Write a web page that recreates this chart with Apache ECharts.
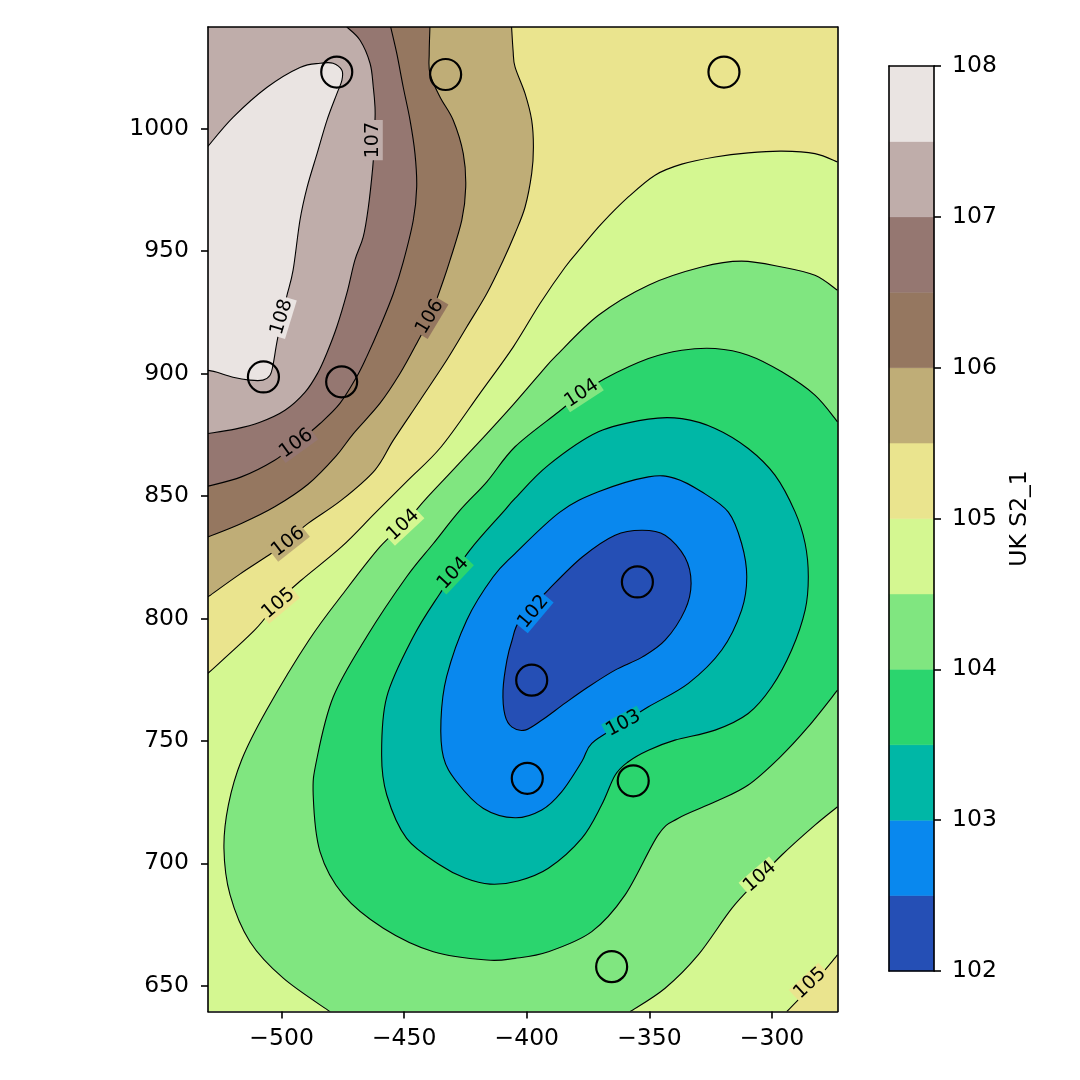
<!DOCTYPE html>
<html><head><meta charset="utf-8">
<script src="https://cdn.jsdelivr.net/npm/echarts@6/dist/echarts.min.js"></script>
<style>html,body{margin:0;padding:0;background:#fff}#c{width:1080px;height:1080px}</style>
</head><body><div id="c"></div>
<script>
// ---------- axes ----------
const xRange = [-530, -273.3];
const yRange = [639.5, 1041.5];
const xTicks = [-500, -450, -400, -350, -300];
const yTicks = [650, 700, 750, 800, 850, 900, 950, 1000];
const cbTicks = [102, 103, 104, 105, 106, 107, 108];

// ---------- contour levels / colours (terrain) ----------
const levels = [102, 102.5, 103, 103.5, 104, 104.5, 105, 105.5, 106, 106.5, 107, 107.5, 108];
const bandColors = ['#254fb5', '#0988ee', '#00b7a6', '#2bd56e', '#80e680', '#d4f791',
                    '#eae48e', '#bfad77', '#957760', '#957771', '#bfadaa', '#eae4e2'];

// ---------- sample locations (circles) ----------
const sampleX = [-477.5, -433.1, -319.6, -507.4, -475.5, -354.9, -398.0, -399.8, -356.6, -365.4];
const sampleY = [1023.1, 1022.1, 1023.1, 898.6, 896.6, 814.9, 774.8, 734.7, 733.7, 657.8];

// ---------- contour lines (data coordinates) ----------
const c1025 = [[-402.8,799.3],[-391.3,811.6],[-377.5,825.0],[-364.0,834.0],[-353.0,836.0],[-343.6,834.0],[-335.5,825.0],[-333.0,814.4],[-335.5,803.4],[-343.6,791.1],[-353.0,784.2],[-364.0,778.9],[-375.0,772.0],[-384.4,765.4],[-393.8,758.5],[-400.7,754.4],[-406.0,755.6],[-408.9,760.5],[-409.7,770.7],[-408.1,783.0],[-406.0,791.1]];
const c103 = [[-404.8,826.5],[-386.5,843.4],[-370.8,851.7],[-350.4,857.8],[-339.6,857.2],[-328.7,851.7],[-317.8,843.4],[-312.4,830.6],[-310.3,817.0],[-312.4,803.4],[-320.5,787.1],[-334.1,773.5],[-350.4,763.9],[-362.0,756.5],[-373.5,749.0],[-377.6,741.5],[-385.8,729.2],[-393.9,721.8],[-404.8,718.6],[-417.7,722.4],[-428.6,733.3],[-434.0,743.4],[-435.0,758.5],[-432.7,776.2],[-424.5,799.3],[-413.7,817.0]];
const c1035 = [[-404.8,849.0],[-391.2,862.6],[-370.8,876.2],[-350.4,881.4],[-336.8,881.6],[-323.2,877.6],[-309.7,869.4],[-298.8,858.5],[-290.6,843.5],[-286.5,830.6],[-285.2,817.0],[-286.5,803.4],[-292.0,787.1],[-300.1,772.1],[-309.7,761.2],[-323.2,754.4],[-339.6,750.3],[-350.4,746.2],[-358.6,741.5],[-364.0,736.0],[-369.5,723.8],[-377.6,710.2],[-391.2,698.0],[-403.6,692.8],[-415.0,691.5],[-425.2,694.0],[-435.4,699.3],[-449.0,710.2],[-457.1,727.9],[-459.2,744.2],[-457.1,768.0],[-446.3,792.5],[-435.4,810.2],[-423.2,827.9],[-409.7,843.4]];
const c104 = [[-273.3,880.3],[-282.5,891.2],[-296.0,900.7],[-309.7,907.5],[-323.2,910.2],[-336.8,909.5],[-350.4,906.1],[-368.1,898.0],[-377.6,891.9],[-387.1,884.3],[-404.8,870.1],[-416.3,855.8],[-427.2,844.2],[-438.1,830.6],[-449.0,817.0],[-465.3,792.5],[-478.9,768.0],[-485.7,742.2],[-487.1,727.9],[-484.3,704.7],[-474.8,687.1],[-458.5,673.5],[-438.1,663.9],[-416.3,660.5],[-404.8,661.2],[-391.2,663.9],[-373.5,672.1],[-359.9,687.1],[-346.4,711.6],[-338.2,718.4],[-323.2,725.1],[-309.7,732.0],[-296.7,743.4],[-285.2,755.8],[-273.3,770.7]];
const c1045a = [[-273.3,934.0],[-282.5,940.1],[-296.0,943.5],[-312.4,945.9],[-328.7,943.5],[-350.4,936.1],[-370.8,923.8],[-387.8,907.5],[-394.6,900.0],[-406.8,885.9],[-419.1,872.4],[-431.3,859.3],[-441.6,848.3],[-449.8,838.8],[-459.9,829.2],[-474.1,811.2],[-488.8,791.2],[-506.1,762.6],[-516.3,742.2],[-521.7,723.8],[-523.5,706.1],[-521.0,687.1],[-512.9,668.0],[-499.3,653.1],[-480.2,639.4]];
const c1045b = [[-357.9,639.4],[-343.6,649.0],[-330.1,662.6],[-316.4,681.6],[-305.7,693.2],[-296.0,703.4],[-282.5,715.6],[-273.3,723.1]];
const c105a = [[-273.3,986.4],[-282.5,989.8],[-296.0,990.8],[-309.7,990.1],[-323.2,988.4],[-336.8,985.5],[-347.7,981.0],[-358.6,972.1],[-369.5,961.2],[-377.6,951.7],[-384.4,943.4],[-394.6,928.6],[-405.5,910.9],[-419.1,891.9],[-434.9,870.1],[-448.4,856.5],[-462.0,842.9],[-475.6,829.2],[-492.0,815.6],[-501.5,806.8],[-511.0,795.2],[-530,777.6]];
const c105b = [[-294.0,639.4],[-283.7,650.3],[-273.3,662.6]];
const c1055 = [[-406.2,1041.5],[-405.6,1032.0],[-404.8,1025.2],[-400.7,1014.3],[-398.0,1003.4],[-397.3,992.5],[-398.0,981.7],[-400.7,968.0],[-404.8,957.2],[-409.6,946.3],[-416.3,932.7],[-424.5,919.0],[-432.7,905.4],[-443.5,889.1],[-454.4,872.8],[-462.0,860.5],[-475.6,848.3],[-489.2,838.8],[-497.4,831.8],[-504.0,826.7],[-517.0,818.1],[-530,808.8]];
const c106 = [[-439.5,1041.5],[-439.8,1030.6],[-439.5,1022.5],[-435.4,1012.9],[-430.0,1003.4],[-425.9,989.8],[-424.9,976.2],[-426.5,962.6],[-431.3,946.3],[-434.0,938.1],[-439.5,923.1],[-444.9,912.3],[-451.7,900.0],[-459.9,887.8],[-470.7,875.5],[-477.8,866.3],[-489.2,854.8],[-502.8,845.6],[-516.4,838.8],[-530,833.3]];
const c1065 = [[-455.5,1041.5],[-453.0,1030.6],[-450.4,1017.0],[-447.6,1003.4],[-445.6,989.8],[-444.9,976.2],[-446.3,962.6],[-450.4,945.5],[-454.4,932.7],[-459.9,919.0],[-465.3,906.8],[-469.4,898.6],[-476.2,887.8],[-484.3,879.6],[-494.0,871.4],[-502.8,864.6],[-516.4,857.8],[-530,854.0]];
const c107 = [[-473.4,1041.5],[-468.0,1036.1],[-463.9,1026.6],[-462.6,1017.0],[-461.9,1008.8],[-461.9,1003.4],[-462.3,992.5],[-462.8,984.4],[-464.6,968.0],[-466.7,955.8],[-470.1,946.3],[-473.4,932.7],[-477.5,919.0],[-481.6,908.2],[-485.1,900.5],[-490.4,892.4],[-498.6,885.0],[-508.8,880.1],[-519.0,877.3],[-530,875.5]];
const c1075 = [[-530,992.8],[-519.8,1004.6],[-505.9,1016.9],[-492.5,1025.0],[-484.3,1026.7],[-479.0,1026.7],[-475.4,1023.8],[-475.4,1019.7],[-477.4,1014.4],[-481.5,1003.4],[-485.5,989.9],[-489.6,976.0],[-492.5,962.6],[-495.3,942.2],[-497.8,931.9],[-499.8,923.0],[-501.9,912.8],[-503.5,903.4],[-504.7,899.3],[-507.6,897.3],[-512.9,897.3],[-519.8,898.5],[-526.3,900.5],[-530,901.3]];

// ---------- contour labels ----------
const labelText  = ['107', '108', '106', '106', '106', '105', '104', '104', '104', '102', '103', '104', '105'];
const labelLevel = [107, 107.5, 106.5, 106, 105.5, 105, 104.5, 104, 103.5, 102.5, 103, 104.5, 105];
const labelX = [-462.6, -499.9, -494.0, -439.5, -497.3, -501.3, -450.4, -377.6, -430.0, -397.3, -360.6, -304.9, -284.5];
const labelY = [995.3, 923.1, 871.4, 923.1, 831.3, 806.1, 838.1, 891.9, 818.4, 802.7, 757.1, 694.5, 651.0];
const labelAngle = [90, 73, 36, 59, 38, 40, 43, 33, 47, 50, 28, 41, 43];

// ---------- build ----------
const X0 = xRange[0], X1 = xRange[1], Y0 = yRange[0], Y1 = yRange[1];
const fills = [
  { band: 5, parts: [], corners: [[X0, Y0], [X1, Y0], [X1, Y1], [X0, Y1]] },
  { band: 4, parts: [c1045a, c1045b], corners: [] },
  { band: 3, parts: [c104], corners: [] },
  { band: 2, parts: [c1035], corners: [], loop: true },
  { band: 1, parts: [c103], corners: [], loop: true },
  { band: 0, parts: [c1025], corners: [], loop: true },
  { band: 6, parts: [c105a], corners: [[X0, Y1], [X1, Y1]] },
  { band: 6, parts: [c105b], corners: [[X1, Y0]] },
  { band: 7, parts: [c1055], corners: [[X0, Y1]] },
  { band: 8, parts: [c106], corners: [[X0, Y1]] },
  { band: 9, parts: [c1065], corners: [[X0, Y1]] },
  { band: 10, parts: [c107], corners: [[X0, Y1]] },
  { band: 11, parts: [c1075], corners: [] }
];
const lines = [
  { pts: c1025, loop: true }, { pts: c103, loop: true }, { pts: c1035, loop: true },
  { pts: c104 }, { pts: c1045a }, { pts: c1045b }, { pts: c105a }, { pts: c105b },
  { pts: c1055 }, { pts: c106 }, { pts: c1065 }, { pts: c107 }, { pts: c1075 }
];

function curveCmds(p, closed) {
  const n = p.length; let d = '';
  const last = closed ? n : n - 1;
  for (let i = 0; i < last; i++) {
    const a = closed ? p[(i - 1 + n) % n] : p[Math.max(i - 1, 0)];
    const b = p[i];
    const c = closed ? p[(i + 1) % n] : p[i + 1];
    const e = closed ? p[(i + 2) % n] : p[Math.min(i + 2, n - 1)];
    const c1x = b[0] + (c[0] - a[0]) / 6, c1y = b[1] + (c[1] - a[1]) / 6;
    const c2x = c[0] - (e[0] - b[0]) / 6, c2y = c[1] - (e[1] - b[1]) / 6;
    d += ' C' + c1x.toFixed(2) + ' ' + c1y.toFixed(2) + ' ' + c2x.toFixed(2) + ' ' + c2y.toFixed(2) + ' ' + c[0].toFixed(2) + ' ' + c[1].toFixed(2);
  }
  return d;
}
const pt = q => q[0].toFixed(2) + ' ' + q[1].toFixed(2);

const fmtMinus = v => (v < 0 ? '\u2212' : '') + Math.abs(v);
const FF = 'DejaVu Sans';
const TICK_FS = 23.5;
const lineStyleBlack = { color: '#000', width: 1.6 };

const chart = echarts.init(document.getElementById('c'), null, { renderer: 'canvas' });
const option = {
  animation: false,
  backgroundColor: '#ffffff',
  grid: [
    { left: 208, top: 27, width: 629.5, height: 984.5, outerBoundsMode: 'none', containLabel: false },
    { left: 889, top: 66, width: 45, height: 905, outerBoundsMode: 'none', containLabel: false }
  ],
  xAxis: [
    { gridIndex: 0, type: 'value', min: X0, max: X1, position: 'bottom', z: 10,
      axisLine: { show: true, onZero: false, lineStyle: lineStyleBlack },
      axisTick: { show: true, length: 7, customValues: xTicks, lineStyle: lineStyleBlack },
      axisLabel: { show: true, customValues: xTicks, formatter: fmtMinus, color: '#000', fontSize: TICK_FS, fontFamily: FF, margin: 15 },
      splitLine: { show: false } },
    { gridIndex: 0, type: 'value', min: X0, max: X1, position: 'top', z: 10,
      axisLine: { show: true, onZero: false, lineStyle: lineStyleBlack },
      axisTick: { show: false }, axisLabel: { show: false }, splitLine: { show: false } },
    { gridIndex: 1, type: 'value', min: 0, max: 1, position: 'bottom', z: 10,
      axisLine: { show: true, onZero: false, lineStyle: lineStyleBlack },
      axisTick: { show: false }, axisLabel: { show: false }, splitLine: { show: false } },
    { gridIndex: 1, type: 'value', min: 0, max: 1, position: 'top', z: 10,
      axisLine: { show: true, onZero: false, lineStyle: lineStyleBlack },
      axisTick: { show: false }, axisLabel: { show: false }, splitLine: { show: false } }
  ],
  yAxis: [
    { gridIndex: 0, type: 'value', min: Y0, max: Y1, position: 'left', z: 10,
      axisLine: { show: true, onZero: false, lineStyle: lineStyleBlack },
      axisTick: { show: true, length: 7, customValues: yTicks, lineStyle: lineStyleBlack },
      axisLabel: { show: true, customValues: yTicks, formatter: fmtMinus, color: '#000', fontSize: TICK_FS, fontFamily: FF, margin: 19 },
      splitLine: { show: false } },
    { gridIndex: 0, type: 'value', min: Y0, max: Y1, position: 'right', z: 10,
      axisLine: { show: true, onZero: false, lineStyle: lineStyleBlack },
      axisTick: { show: false }, axisLabel: { show: false }, splitLine: { show: false } },
    { gridIndex: 1, type: 'value', min: 102, max: 108, position: 'right', z: 10,
      name: 'UK S2_1', nameLocation: 'middle', nameRotate: 90, nameGap: 74,
      nameTextStyle: { color: '#000', fontSize: TICK_FS, fontFamily: FF },
      axisLine: { show: true, onZero: false, lineStyle: lineStyleBlack },
      axisTick: { show: true, length: 7, customValues: cbTicks, lineStyle: lineStyleBlack },
      axisLabel: { show: true, customValues: cbTicks, color: '#000', fontSize: TICK_FS, fontFamily: FF, margin: 18 },
      splitLine: { show: false } },
    { gridIndex: 1, type: 'value', min: 102, max: 108, position: 'left', z: 10,
      axisLine: { show: true, onZero: false, lineStyle: lineStyleBlack },
      axisTick: { show: false }, axisLabel: { show: false }, splitLine: { show: false } }
  ],
  series: [
    { // filled contour bands
      type: 'custom', xAxisIndex: 0, yAxisIndex: 0, clip: true, z: 2, silent: true,
      data: fills.map((f, i) => [i]),
      renderItem: function (params, api) {
        const f = fills[params.dataIndex];
        let d = '';
        f.parts.forEach(part => {
          const px = part.map(q => api.coord(q));
          d += (d ? ' L' : 'M') + pt(px[0]);
          d += curveCmds(px, !!f.loop);
        });
        f.corners.forEach(q => { d += (d ? ' L' : 'M') + pt(api.coord(q)); });
        d += ' Z';
        return { type: 'path', shape: { pathData: d }, style: { fill: bandColors[f.band], stroke: null } };
      }
    },
    { // contour lines
      type: 'custom', xAxisIndex: 0, yAxisIndex: 0, clip: true, z: 3, silent: true,
      data: lines.map((l, i) => [i]),
      renderItem: function (params, api) {
        const l = lines[params.dataIndex];
        const px = l.pts.map(q => api.coord(q));
        let d = 'M' + pt(px[0]) + curveCmds(px, !!l.loop) + (l.loop ? ' Z' : '');
        return { type: 'path', shape: { pathData: d }, style: { fill: null, stroke: '#000', lineWidth: 1.1 } };
      }
    },
    { // contour labels
      type: 'custom', xAxisIndex: 0, yAxisIndex: 0, clip: true, z: 4, silent: true,
      data: labelText.map((t, i) => [labelX[i], labelY[i]]),
      renderItem: function (params, api) {
        const i = params.dataIndex;
        const p = api.coord([labelX[i], labelY[i]]);
        const band = Math.round((labelLevel[i] - levels[0]) / 0.5);
        return {
          type: 'text', x: p[0], y: p[1], rotation: labelAngle[i] * Math.PI / 180,
          style: { text: labelText[i], fill: '#000', fontSize: 19, fontFamily: FF,
                   align: 'center', verticalAlign: 'middle',
                   backgroundColor: bandColors[Math.min(band, 11)], padding: [0, 2] }
        };
      }
    },
    { // sample points
      type: 'scatter', xAxisIndex: 0, yAxisIndex: 0, z: 6, silent: true,
      symbol: 'circle', symbolSize: 31,
      itemStyle: { color: 'rgba(0,0,0,0)', borderColor: '#000', borderWidth: 2.2, opacity: 1 },
      data: sampleX.map((x, i) => [x, sampleY[i]])
    },
    { // colorbar
      type: 'custom', xAxisIndex: 2, yAxisIndex: 2, z: 2, silent: true,
      data: bandColors.map((c, i) => [i]),
      renderItem: function (params, api) {
        const i = params.dataIndex;
        const a = api.coord([0, levels[i + 1]]);
        const b = api.coord([1, levels[i]]);
        return { type: 'rect', shape: { x: a[0], y: a[1], width: b[0] - a[0], height: b[1] - a[1] },
                 style: { fill: bandColors[i], stroke: bandColors[i], lineWidth: 0.5 } };
      }
    }
  ]
};
chart.setOption(option);
</script>
</body></html>
